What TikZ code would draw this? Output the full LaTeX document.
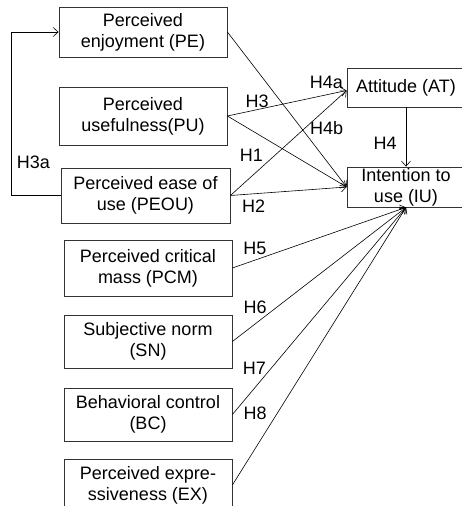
\documentclass[tikz,border=0pt]{standalone}
\usepackage{fontspec}
\setmainfont{Liberation Sans}
\usetikzlibrary{arrows.meta, shapes}
\tikzstyle{construct} = [rectangle, minimum width=168pt, inner sep=0pt, align=center, draw=black!80, line width=0.8pt, font=\fontsize{18}{21}\selectfont]
\tikzstyle{arrow} = [line width=0.6pt, ->, >={Straight Barb[length=5pt,width=9pt]}]
\tikzstyle{hyp} = [inner sep=2pt, font=\fontsize{18}{21}\selectfont]

\begin{document}
\begin{tikzpicture}[x=1pt, y=-1pt]
\useasboundingbox (0, 0) rectangle (462, 506);

\node at (143, 32) (pe) [construct, minimum height=50pt] {Perceived\\enjoyment (PE)};
\node at (143, 116) (pu) [construct, minimum height=58pt] {Perceived\\usefulness(PU)};
\node at (145.5, 195.5) (peou) [construct, minimum width=169pt, minimum height=55pt] {Perceived ease of\\use (PEOU)};

\node at (406, 87.5) (at) [construct, minimum width=118pt, minimum height=39pt] {Attitude (AT)};
\node at (406, 187) (iu) [construct, minimum width=118pt, minimum height=40pt] {Intention to\\use (IU)};

\node at (148, 268) (pcm) [construct, minimum height=56pt] {Perceived critical\\mass (PCM)};
\node at (148, 341.5) (sn) [construct, minimum height=53pt] {Subjective norm\\(SN)};
\node at (148, 414.5) (bc) [construct, minimum height=53pt] {Behavioral control\\(BC)};
\node at (148, 485) (ex) [construct, minimum height=52pt] {Perceived expre-\\ssiveness (EX)};

\draw [arrow] (peou.west) -- ++(-49, 0) |- (pe.west) node [hyp, pos=0.1, right=3pt] (h3a) {H3a};

\draw [arrow] (pe.east) -- (iu.west);
\draw [arrow] (pu.east) -- ([yshift=-3pt]at.west) node [hyp, pos=0.25, above] (h3) {H3} node [hyp, pos=0.83, above=4pt] (h4a) {H4a};
\draw [arrow] (pu.east) -- (iu.west);
\draw [arrow] (peou.east) -- ([yshift=-3pt]at.west) node [hyp, pos=0.3, above left] (h1) {H1} node [hyp, pos=0.64, right=3pt] (h4b) {H4b};
\draw [arrow] (peou.east) -- (iu.west) node [hyp, pos=0.2, below=4pt] (h2) {H2};
\draw [arrow] (at.south) -- (iu.north) node [hyp, pos=0.6, left=7pt] (h4) {H4};

\draw [arrow] (pcm.east) -- (iu.south) node [hyp, pos=0.13, above=3pt] (h5) {H5};
\draw [arrow] (sn.east) -- (iu.south) node [hyp, pos=0.256, left=8pt] (h6) {H6};
\draw [arrow] (bc.east) -- (iu.south) node [hyp, pos=0.223, left=3pt] (h7) {H7};
\draw [arrow] (ex.east) -- (iu.south) node [hyp, pos=0.257, left=8pt] (h8) {H8};

\end{tikzpicture}
\end{document}
